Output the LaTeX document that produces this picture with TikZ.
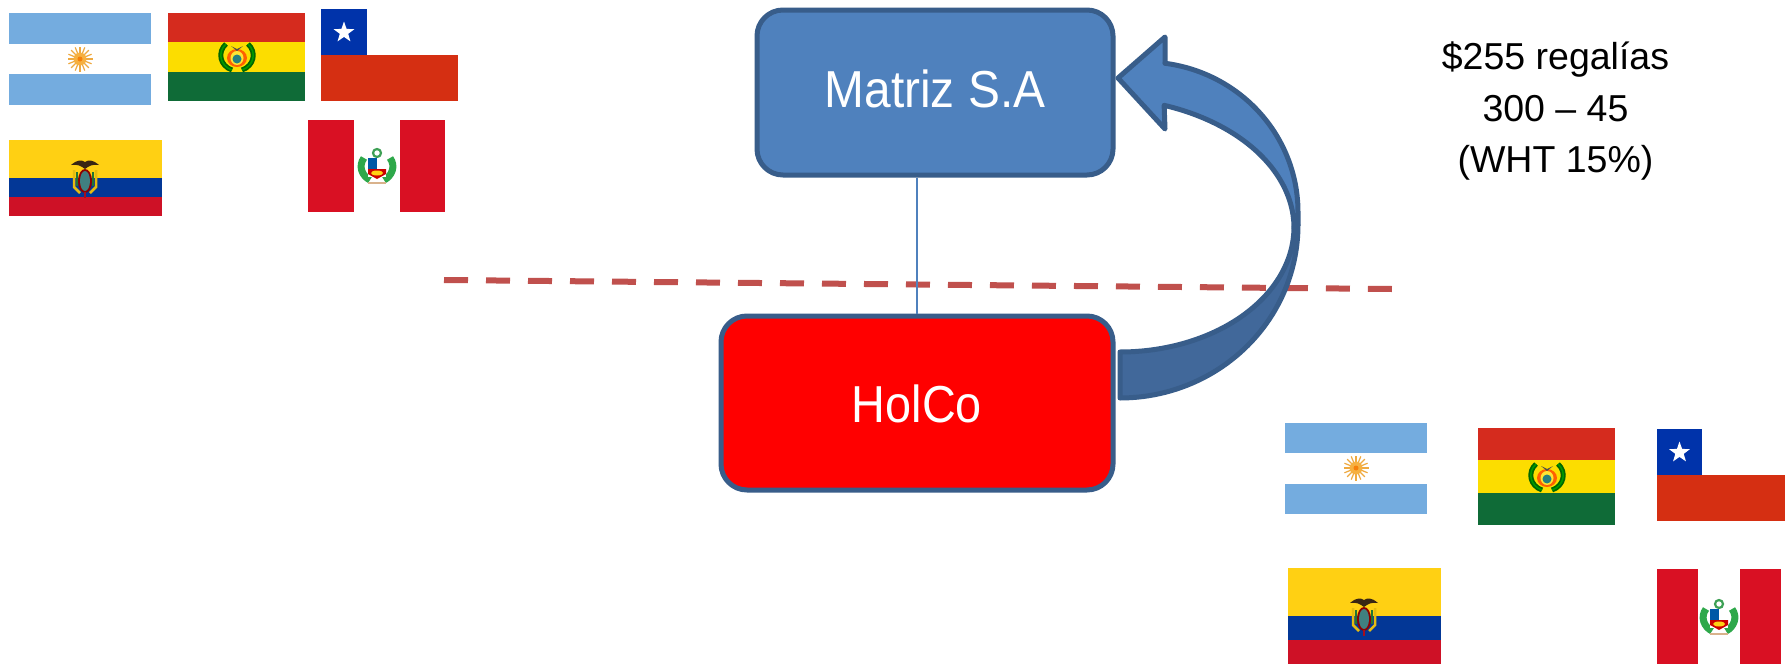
\documentclass[tikz,border=0pt]{standalone}
\usepackage{fontspec}
\setmainfont{Liberation Sans}
\newfontfamily\boxfont[FakeStretch=0.92]{Liberation Sans}
\newfontfamily\holfont[FakeStretch=0.90]{Liberation Sans}
\usetikzlibrary{shapes.geometric}
\definecolor{accentblue}{HTML}{4F81BD}
\definecolor{strokeblue}{HTML}{385D8A}
\definecolor{shadeblue}{HTML}{41689A}
\definecolor{dashred}{HTML}{C0504D}
\definecolor{argblue}{HTML}{74ACDF}
\definecolor{bolred}{HTML}{D52B1E}
\definecolor{bolyellow}{HTML}{FCDD00}
\definecolor{bolgreen}{HTML}{0F6B37}
\definecolor{chired}{HTML}{D52F12}
\definecolor{chiblue}{HTML}{0033AA}
\definecolor{ecuyellow}{HTML}{FFD013}
\definecolor{ecublue}{HTML}{033796}
\definecolor{ecured}{HTML}{CE1126}
\definecolor{perured}{HTML}{D91023}
\definecolor{leaf}{HTML}{2EA84A}
\definecolor{sun}{HTML}{F6B040}
\tikzset{
  x=1pt,y=-1pt,
  boxstyle/.style={draw=strokeblue,line width=5pt,rounded corners=26pt,text=white,font=\fontsize{52}{60}\selectfont,inner sep=0pt,text depth=0pt,align=center},
  arrowstroke/.style={draw=strokeblue,line width=5pt,line join=round},
  sunemblem/.pic={
    \foreach \a in {0,22.5,...,337.5}{\draw[sun!85!brown,line width=1.2pt] (0,0) -- (\a:12.5pt);}
    \fill[sun] (0,0) circle[radius=6.5pt];
    \fill[orange!85!brown] (0,0) circle[radius=2.5pt];
  },
  wreathemblem/.pic={
    \draw[green!40!black,line width=5pt] (-11,-13) .. controls (-20,-5) and (-17,9) .. (-5,13);
    \draw[green!40!black,line width=5pt] (11,-13) .. controls (20,-5) and (17,9) .. (5,13);
    \draw[green!60!black,line width=1.5pt] (-11,-13) .. controls (-20,-5) and (-17,9) .. (-5,13);
    \draw[green!60!black,line width=1.5pt] (11,-13) .. controls (20,-5) and (17,9) .. (5,13);
    \fill[orange!75!red] (0,1) ellipse[x radius=10pt,y radius=9pt];
    \fill[bolyellow!80!white] (0,1) ellipse[x radius=6.5pt,y radius=7pt];
    \fill[teal!70!gray] (0,2) circle[radius=4.5pt];
    \fill[black!70] (-6,-11) -- (0,-6) -- (6,-11) -- (0,-8) -- cycle;
  },
  ecuemblem/.pic={
    \fill[black!70!brown] (-14,-12) .. controls (-7,-18) and (-3,-17) .. (0,-15) .. controls (3,-17) and (7,-18) .. (14,-12) .. controls (7,-13) and (4,-11) .. (0,-8) .. controls (-4,-11) and (-7,-13) .. (-14,-12) -- cycle;
    \draw[ecuyellow!90!black,line width=2.5pt] (-11,-7) -- (-11,10) -- (-5,16);
    \draw[ecuyellow!90!black,line width=2.5pt] (11,-7) -- (11,10) -- (5,16);
    \draw[leaf!70!black,line width=1.5pt] (-8,-5) -- (-8,9);
    \draw[leaf!70!black,line width=1.5pt] (8,-5) -- (8,9);
    \fill[red!55!black] (0,4) ellipse[x radius=7pt,y radius=12pt];
    \fill[teal!50!gray] (0,4) ellipse[x radius=5pt,y radius=10pt];
    \draw[ecured!80!black,line width=1.5pt] (0,15) -- (0,21);
  },
  peruemblem/.pic={
    \draw[leaf!80!gray,line width=2.2pt] (0,-13) circle[radius=4pt];
    \draw[leaf,line width=7pt] (-13,-8) .. controls (-19,0) and (-15,10) .. (-7,14);
    \draw[leaf,line width=7pt] (13,-8) .. controls (19,0) and (15,10) .. (7,14);
    \fill[white] (-9,-8) rectangle (9,11);
    \fill[teal!70!blue] (-9,-8) rectangle (0,3);
    \fill[red!80!black] (-9,3) -- (9,3) -- (9,8) -- (0,13) -- (-9,8) -- cycle;
    \fill[ecuyellow] (0,7) ellipse[x radius=6pt,y radius=2.5pt];
    \draw[brown!60!white,line width=1.5pt] (-9,17) -- (9,17);
  },
}
\newcommand{\flagArg}[5]{% x0 y0 x1 y1 s1
  \fill[argblue] (#1,#2) rectangle (#3,#4);
  \fill[white] (#1,#5) rectangle (#3,{#2+#4-#5});
}
\newcommand{\flagH}[9]{% x0 y0 x1 y1 s1 s2 c1 c2 c3
  \fill[#7] (#1,#2) rectangle (#3,#5);
  \fill[#8] (#1,#5) rectangle (#3,#6);
  \fill[#9] (#1,#6) rectangle (#3,#4);
}
\newcommand{\flagChi}[7]{% x0 y0 x1 y1 cx cy, star size
  \fill[chired] (#1,#6) rectangle (#3,#4);
  \fill[chiblue] (#1,#2) rectangle (#5,#6);
  \node[star,star points=5,star point ratio=2.5,fill=white,inner sep=0pt,minimum size=#7pt] at ({(#1+#5)/2},{(#2+#6)/2+0.5}) {};
}
\newcommand{\flagPeru}[6]{% x0 y0 x1 y1 s1 s2
  \fill[perured] (#1,#2) rectangle (#5,#4);
  \fill[perured] (#6,#2) rectangle (#3,#4);
}
\begin{document}
\begin{tikzpicture}
\useasboundingbox (0,0) rectangle (1785,664);
\fill[white] (0,0) rectangle (1785,664);

% flags, upper left
\flagArg{9}{13}{151}{105}{44}
\pic at (80,59) {sunemblem};
\flagH{168}{13}{305}{101}{42}{72}{bolred}{bolyellow}{bolgreen}
\pic at (237,57) {wreathemblem};
\flagChi{321}{9}{458}{101}{367}{55}{22}
\flagH{9}{140}{162}{216}{178}{197}{ecuyellow}{ecublue}{ecured}
\pic at (85,177) {ecuemblem};
\flagPeru{308}{120}{445}{212}{354}{400}
\pic at (377,166) {peruemblem};

% flags, lower right
\flagArg{1285}{423}{1427}{514}{453}
\pic at (1356,468) {sunemblem};
\flagH{1478}{428}{1615}{525}{460}{493}{bolred}{bolyellow}{bolgreen}
\pic at (1547,477) {wreathemblem};
\flagChi{1657}{429}{1785}{521}{1702}{475}{22}
\flagH{1288}{568}{1441}{664}{616}{640}{ecuyellow}{ecublue}{ecured}
\pic at (1364,615) {ecuemblem};
\flagPeru{1657}{569}{1781}{664}{1698}{1740}
\pic at (1719,617) {peruemblem};

% dashed border
\coordinate (dashL) at (444,280);
\coordinate (dashR) at (1392,289);
\draw[dashred,line width=6pt,dash pattern=on 24pt off 18pt] (dashL) -- (dashR);

% boxes
\node[boxstyle,fill=accentblue,minimum width=356pt,minimum height=165pt,text height=29pt] (matriz) at (935,92.5) {\boxfont Matriz S.A};
\node[boxstyle,fill=red,minimum width=392pt,minimum height=174pt,text height=38pt] (holco) at (917,403) {\holfont HolCo};

% connector
\draw[accentblue,line width=1.6pt] (holco.north |- matriz.south) -- (holco.north);

% curved arrow: lower half, then upper half
\filldraw[arrowstroke,fill=shadeblue]
  (1120,352) -- (1120,398)
  -- plot[domain=90:0,samples=50] ({1120+178*cos(\x)},{225+173*sin(\x)})
  -- plot[domain=0:90,samples=50] ({1120+174*cos(\x)},{227+125*sin(\x)})
  -- cycle;
\filldraw[arrowstroke,fill=accentblue]
  (1118,78) -- (1165,37) -- (1165,62)
  -- plot[domain=82.5:0,samples=50] ({1145+153*cos(\x)},{212-150*sin(\x)})
  -- (1298,225) -- (1294,228)
  -- plot[domain=0:70.7,samples=50] ({1100+194*cos(\x)},{228-130*sin(\x)})
  -- (1165,129) -- cycle;

% note
\node[anchor=center,align=center,inner sep=0pt,font=\fontsize{37.5}{51.5}\selectfont] (note) at (1555.5,111) {\$255 regalías\\300 – 45\\(WHT 15\%)};
\end{tikzpicture}
\end{document}
